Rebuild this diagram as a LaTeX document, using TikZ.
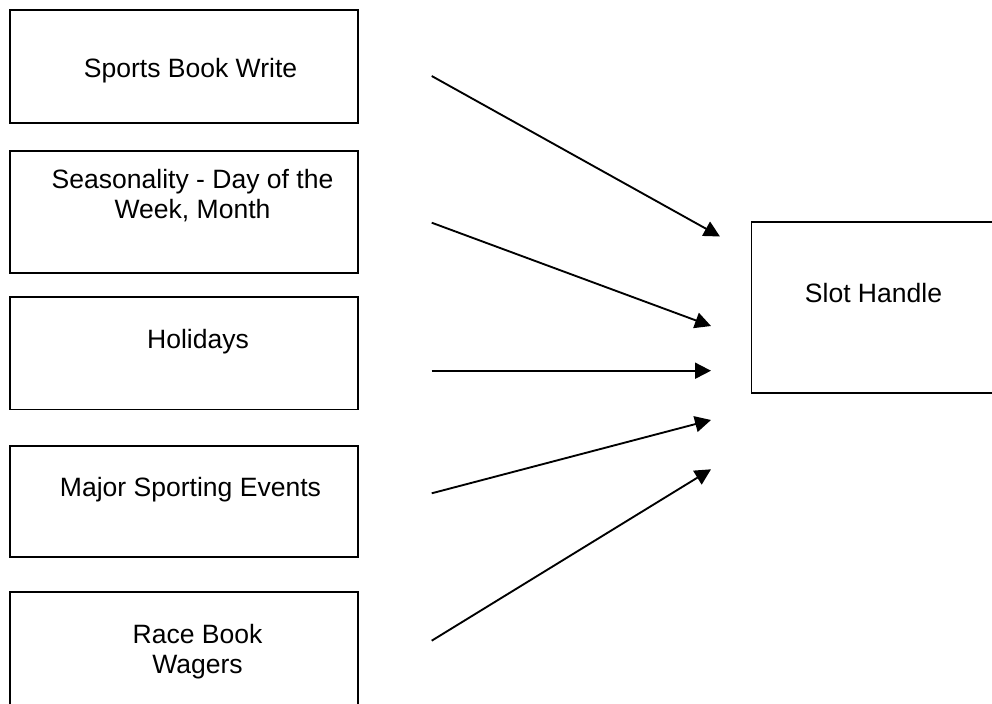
\documentclass[tikz,border=0pt]{standalone}
\usepackage{fontspec}
\setmainfont{Liberation Sans}
\usetikzlibrary{arrows.meta}
\begin{document}
\begin{tikzpicture}[x=0.75pt,y=-0.75pt,
  box/.style={draw=black, line width=1.4pt, rectangle, inner sep=0pt, outer sep=0pt, fill=none},
  lbl/.style={anchor=base, inner sep=0pt, outer sep=0pt, align=center,
    font=\fontsize{19.9pt}{22.5pt}\selectfont},
  arr/.style={line width=1.4pt, -{Triangle[length=12pt,width=12pt]}}]
\useasboundingbox (0,0) rectangle (992,703);
\clip (0,0) rectangle (992,703);
\fill[white] (0,0) rectangle (992,703);
% boxes
\node[box, minimum width=261.4pt, minimum height=84.3pt] (b1) at (184.05,66.5) {};
\node[box, minimum width=261.4pt, minimum height=91.65pt] (b2) at (184.05,211.9) {};
\node[box, minimum width=261.4pt, minimum height=84.15pt] (b3) at (184.05,353.4) {};
\node[box, minimum width=261.4pt, minimum height=83.4pt] (b4) at (184.05,501.4) {};
\node[box, minimum width=261.4pt, minimum height=95.8pt] (b5) at (184.05,656.15) {};
\node[box, minimum width=193.9pt, minimum height=127.8pt] (r) at (880.75,307.5) {};
% labels
\node[lbl] (l1) at (190.5,77) {Sports Book Write};
\node[lbl] (l2) at (192.5,218) {Seasonality - Day of the\\Week, Month};
\node[lbl] (l3) at (198,348) {Holidays};
\node[lbl] (l4) at (190.5,496) {Major Sporting Events};
\node[lbl] (l5) at (197.5,673) {Race Book\\Wagers};
\node[lbl] (lr) at (873.5,302.7) {Slot Handle};
% arrow ends
\coordinate (s1) at (431.7,76);
\coordinate (s2) at (431.7,222.7);
\coordinate (s3) at (431.7,370.7);
\coordinate (s4) at (431.7,493.3);
\coordinate (s5) at (431.7,640.7);
\coordinate (t1) at (720,236.5);
\coordinate (t2) at (711,326);
\coordinate (t3) at (711,370.7);
\coordinate (t4) at (711,420);
\coordinate (t5) at (711,469.3);
\draw[arr] (s1) -- (t1);
\draw[arr] (s2) -- (t2);
\draw[arr] (s3) -- (t3);
\draw[arr] (s4) -- (t4);
\draw[arr] (s5) -- (t5);
\end{tikzpicture}
\end{document}
